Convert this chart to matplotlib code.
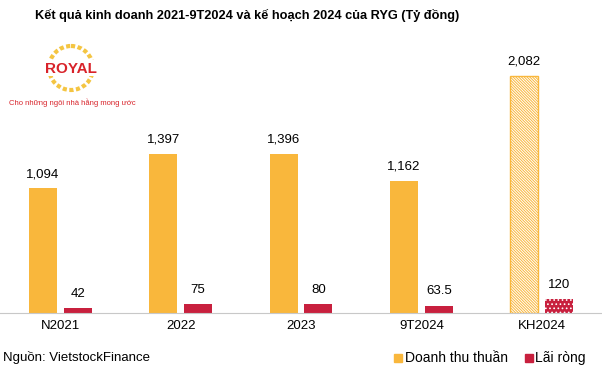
import numpy as np
import matplotlib.pyplot as plt
from matplotlib.patches import Circle

categories = ["N2021", "2022", "2023", "9T2024", "KH2024"]
revenue = [1094, 1397, 1396, 1162, 2082]
profit = [42, 75, 80, 63.5, 120]
revenue_labels = ["1,094", "1,397", "1,396", "1,162", "2,082"]
profit_labels = ["42", "75", "80", "63.5", "120"]

ORANGE = "#F9B73C"
RED = "#C8203E"

plt.rcParams['font.family'] = ['Liberation Sans', 'DejaVu Sans']
plt.rcParams['hatch.linewidth'] = 0.7

fig = plt.figure(figsize=(6.02, 3.72), dpi=100)
ax = fig.add_axes([0.0, 1 - 313 / 372, 1.0, 273 / 372])

x = np.arange(len(categories))
w = 0.233
off = 0.145

n = len(categories)
for i in range(n):
    plan = categories[i].startswith("KH")
    if plan:
        ax.bar(x[i] - off, revenue[i], w, facecolor="white", edgecolor=ORANGE,
               hatch="\\" * 12, linewidth=1.0)
        ax.bar(x[i] + off, profit[i], w, facecolor=RED, edgecolor="white",
               hatch="....", linewidth=0)
    else:
        ax.bar(x[i] - off, revenue[i], w, color=ORANGE, linewidth=0)
        ax.bar(x[i] + off, profit[i], w, color=RED, linewidth=0)
    ax.annotate(revenue_labels[i], (x[i] - off, revenue[i]), xytext=(0, 6),
                textcoords="offset points", ha="center", va="bottom", fontsize=9.5)
    ax.annotate(profit_labels[i], (x[i] + off, profit[i]), xytext=(0, 6),
                textcoords="offset points", ha="center", va="bottom", fontsize=9.5)

ax.set_xlim(-0.5, n - 0.5)
ax.set_ylim(0, 2082 * 273 / 237)
ax.set_xticks(x)
ax.set_xticklabels(categories, fontsize=9.5)
ax.tick_params(axis="x", length=0, pad=5)
ax.set_yticks([])
for s in ["top", "left", "right"]:
    ax.spines[s].set_visible(False)
ax.spines["bottom"].set_color("#C8C8C8")

fig.text(0.41, 0.958, "Kết quả kinh doanh 2021-9T2024 và kế hoạch 2024 của RYG (Tỷ đồng)",
         ha="center", va="center", fontsize=9.2, fontweight="bold")

# logo and footer drawn in pixel coordinates
lax = fig.add_axes([0, 0, 1, 1], zorder=2)
lax.set_xlim(0, 602)
lax.set_ylim(372, 0)
lax.axis("off")
lax.patch.set_visible(False)
lax.add_patch(Circle((71, 68), 22, fill=False, edgecolor="#F4C542", linewidth=3,
                     linestyle=(0, (1, 0.6))))
lax.add_patch(Circle((71, 68), 18, facecolor="white", edgecolor="none"))
lax.add_patch(plt.Rectangle((44, 60), 54, 16, facecolor="white", edgecolor="none"))
lax.text(71, 69, "ROYAL", ha="center", va="center", fontsize=11, fontweight="bold",
         color="#D8232A")
lax.text(72, 103, "Cho những ngôi nhà hằng mong ước", ha="center", va="center",
         fontsize=5.5, color="#D8232A")

lax.text(3, 358, "Nguồn: VietstockFinance", ha="left", va="center", fontsize=9.5)
lax.add_patch(plt.Rectangle((394, 354), 8, 8, color=ORANGE))
lax.text(405, 358, "Doanh thu thuần", ha="left", va="center", fontsize=10)
lax.add_patch(plt.Rectangle((525, 354), 8, 8, color=RED))
lax.text(535, 358, "Lãi ròng", ha="left", va="center", fontsize=10)

fig.savefig("out.png", dpi=100)
